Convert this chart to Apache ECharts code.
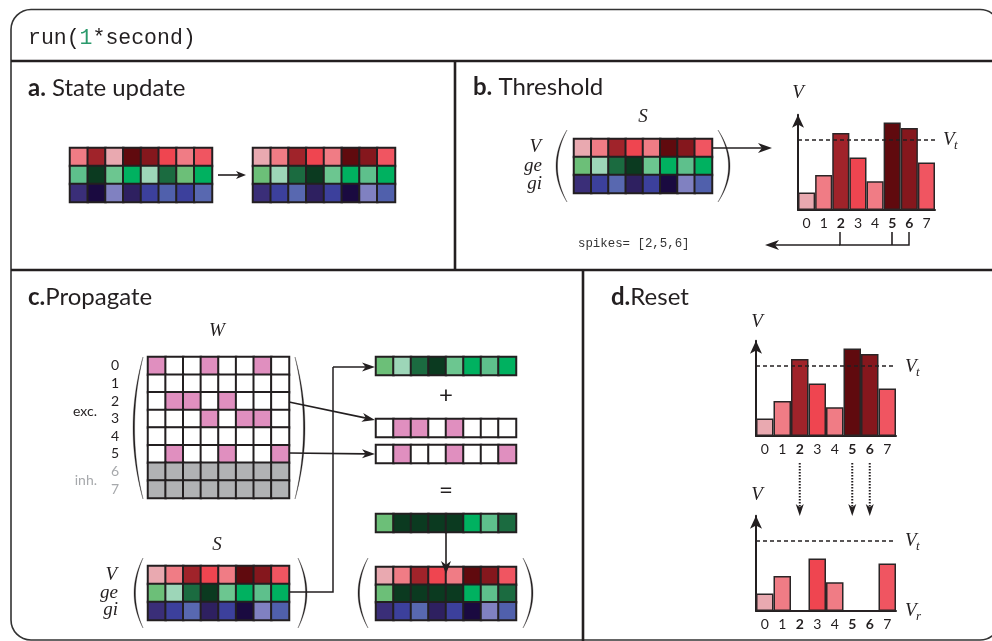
<!DOCTYPE html>
<html><head><meta charset="utf-8">
<script src="https://cdn.jsdelivr.net/npm/echarts@6/dist/echarts.min.js"></script>
<style>html,body{margin:0;padding:0;background:#fff}#c{width:992px;height:641px}</style>
</head><body><div id="c"></div><script>
// ---- network state (8 neurons, 3 state variables) ----
const neurons = ['0', '1', '2', '3', '4', '5', '6', '7'];
const stateRows = ['V', 'ge', 'gi'];
const vThreshold = 1.0;
const vReset = 0;
const vAxisMax = 1.36;

// state before the update step
const vBefore  = [0.45, 1.05, 0.25, 1.25, 1.17, 0.75, 0.50, 0.68];
const geBefore = [2.3, 5.5, 1.8, 2.9, 0.6, 4.0, 1.3, 2.6];
const giBefore = [2.8, 4.2, 0.5, 3.4, 2.0, 1.4, 2.0, 1.0];
// state after the update step
const vAfter  = [0.25, 0.50, 1.10, 0.75, 0.41, 1.25, 1.17, 0.68];
const geAfter = [1.3, 0.6, 4.0, 5.5, 1.8, 2.9, 2.3, 2.6];
const giAfter = [2.8, 2.0, 1.0, 3.4, 2.0, 4.2, 0.5, 1.4];
// neurons above threshold
const spikes = [2, 5, 6];
// synaptic weights: 1 = excitatory connection, -1 = inhibitory source row
const W = [
  [1, 0, 0, 1, 0, 0, 1, 0],
  [0, 0, 0, 0, 0, 0, 0, 0],
  [0, 1, 1, 0, 1, 0, 0, 0],
  [0, 0, 0, 1, 0, 1, 1, 0],
  [0, 0, 0, 0, 0, 0, 0, 0],
  [0, 1, 0, 0, 1, 0, 0, 1],
  [-1, -1, -1, -1, -1, -1, -1, -1],
  [-1, -1, -1, -1, -1, -1, -1, -1]
];
// ge after adding the rows of spiking excitatory neurons
const geSummed = [1.3, 5.2, 6.3, 5.5, 6.4, 2.9, 2.3, 4.9];
// V after resetting the spiking neurons
const vAfterReset = [0.25, 0.50, 0, 0.75, 0.41, 0, 0, 0.68];

// ---- colour scales ----
const vPieces = [
  { gte: 0,    lt: 0.32, color: '#e9a9b0' },
  { gte: 0.32, lt: 0.62, color: '#f07c85' },
  { gte: 0.62, lt: 0.72, color: '#f05561' },
  { gte: 0.72, lt: 0.95, color: '#ef4550' },
  { gte: 0.95, lt: 1.14, color: '#a0232a' },
  { gte: 1.14, lt: 1.21, color: '#85171d' },
  { gte: 1.21,           color: '#600a0e' }
];
const gePieces = [
  { gte: 0,   lt: 1,   color: '#9dd6b8' },
  { gte: 1,   lt: 1.6, color: '#6cbf78' },
  { gte: 1.6, lt: 2.1, color: '#6cc690' },
  { gte: 2.1, lt: 2.5, color: '#5ec08c' },
  { gte: 2.5, lt: 3.5, color: '#00b160' },
  { gte: 3.5, lt: 5,   color: '#1b6b40' },
  { gte: 5,            color: '#0b3a20' }
];
const giPieces = [
  { gte: 0,   lt: 0.8, color: '#8081c1' },
  { gte: 0.8, lt: 1.2, color: '#5868b0' },
  { gte: 1.2, lt: 1.7, color: '#5060ac' },
  { gte: 1.7, lt: 2.4, color: '#3c409c' },
  { gte: 2.4, lt: 3.1, color: '#3a2e78' },
  { gte: 3.1, lt: 3.8, color: '#2e2060' },
  { gte: 3.8,          color: '#1a0a40' }
];
const wPieces = [
  { value: 1,  color: '#e08fbf' },
  { value: 0,  color: '#ffffff' },
  { value: -1, color: '#b1b2b4' }
];

const INK = '#231f20';
const SANS = 'Lato';
const SERIF = 'Liberation Serif';
const MONO = 'Liberation Mono';

const grids = [], xAxes = [], yAxes = [], series = [];
const vIdx = [], geIdx = [], giIdx = [], wIdx = [];

function addGrid(l, t, w, h) {
  grids.push({ left: l, top: t, width: w, height: h, containLabel: false });
  return grids.length - 1;
}
function matrixGrid(l, t, w, h, rows) {
  const g = addGrid(l, t, w, h);
  xAxes.push({ gridIndex: g, type: 'category', data: neurons, show: false });
  yAxes.push({ gridIndex: g, type: 'category', data: rows, inverse: true, show: false });
  return g;
}
function heatRow(g, row, values, group) {
  series.push({
    type: 'heatmap', xAxisIndex: g, yAxisIndex: g,
    data: values.map((v, i) => [i, row, v]),
    itemStyle: { borderColor: INK, borderWidth: 2 },
    emphasis: { disabled: true }, silent: true
  });
  group.push(series.length - 1);
}
function stateMatrix(l, t, w, h, v, ge, gi) {
  const g = matrixGrid(l, t, w, h, stateRows);
  heatRow(g, 0, v, vIdx);
  heatRow(g, 1, ge, geIdx);
  heatRow(g, 2, gi, giIdx);
}
function vector(l, t, w, h, values, group) {
  const g = matrixGrid(l, t, w, h, ['row']);
  heatRow(g, 0, values, group);
}
function barChart(l, t, w, h, values) {
  const g = addGrid(l, t, w, h);
  xAxes.push({
    gridIndex: g, type: 'category', data: neurons,
    axisLine: { show: true, lineStyle: { color: INK, width: 2 } },
    axisTick: { show: false },
    axisLabel: {
      margin: 6, interval: 0,
      formatter: (val, i) => spikes.includes(i) ? '{b|' + val + '}' : '{n|' + val + '}',
      rich: {
        n: { fontFamily: SANS, fontSize: 14, color: INK },
        b: { fontFamily: SANS, fontSize: 14, color: INK, fontWeight: 'bold' }
      }
    }
  });
  yAxes.push({
    gridIndex: g, type: 'value', min: 0, max: vAxisMax,
    axisLine: { show: true, lineStyle: { color: INK, width: 2 }, symbol: ['none', 'arrow'], symbolSize: [9, 13] },
    axisTick: { show: false }, axisLabel: { show: false }, splitLine: { show: false }
  });
  series.push({
    type: 'bar', xAxisIndex: g, yAxisIndex: g, data: values,
    barCategoryGap: '0%',
    itemStyle: { borderColor: '#2b2526', borderWidth: 1.5 },
    emphasis: { disabled: true }, silent: true,
    markLine: {
      silent: true, symbol: 'none', label: { show: false },
      lineStyle: { color: INK, width: 1.5, type: [4, 3] },
      data: [{ yAxis: vThreshold }]
    }
  });
  vIdx.push(series.length - 1);
}

// a. state update
stateMatrix(70, 148, 142, 54, vBefore, geBefore, giBefore);
stateMatrix(253, 148, 142, 54, vAfter, geAfter, giAfter);
// b. threshold
stateMatrix(574, 139, 138, 54, vAfter, geAfter, giAfter);
barChart(798, 210 - vAxisMax * 70, 137, vAxisMax * 70, vAfter);
// c. propagate
const gW = matrixGrid(148, 357, 141, 141, neurons);
W.forEach((row, r) => heatRow(gW, r, row, wIdx));
stateMatrix(148, 566, 141, 54, vAfter, geAfter, giAfter);
vector(376, 357, 140, 18, geAfter, geIdx);
vector(376, 419, 140, 18, W[2], wIdx);
vector(376, 445, 140, 18, W[5], wIdx);
vector(376, 514, 140, 18, geSummed, geIdx);
stateMatrix(376, 567, 140, 53, vAfter, geSummed, giAfter);
// d. reset
barChart(756, 436 - vAxisMax * 70, 140, vAxisMax * 70, vAfter);
barChart(756, 611 - vAxisMax * 70, 140, vAxisMax * 70, vAfterReset);

const visualMap = [
  { type: 'piecewise', show: false, seriesIndex: vIdx, pieces: vPieces },
  { type: 'piecewise', show: false, seriesIndex: geIdx, pieces: gePieces },
  { type: 'piecewise', show: false, seriesIndex: giIdx, pieces: giPieces },
  { type: 'piecewise', show: false, seriesIndex: wIdx, pieces: wPieces }
];

// ---- drawing helpers for frame, brackets, arrows and labels ----
const G = [];
function line(x1, y1, x2, y2, w, color, dash) {
  G.push({ type: 'line', z: 100, silent: true, shape: { x1, y1, x2, y2 },
    style: { stroke: color || INK, lineWidth: w || 1.5, lineDash: dash || null } });
}
function polyline(points, w) {
  G.push({ type: 'polyline', z: 100, silent: true, shape: { points },
    style: { stroke: INK, lineWidth: w || 1.5, fill: null } });
}
function head(x, y, dx, dy, len, half) {
  const px = -dy, py = dx;
  G.push({ type: 'polygon', z: 101, silent: true, shape: { points: [
    [x, y],
    [x - dx * len + px * half, y - dy * len + py * half],
    [x - dx * len * 0.72, y - dy * len * 0.72],
    [x - dx * len - px * half, y - dy * len - py * half]
  ] }, style: { fill: INK } });
}
function arrow(x1, y1, x2, y2, opt) {
  opt = opt || {};
  const len = opt.len || 11, half = opt.half || 4.5;
  const d = Math.hypot(x2 - x1, y2 - y1), dx = (x2 - x1) / d, dy = (y2 - y1) / d;
  line(x1, y1, x2 - dx * len * 0.7, y2 - dy * len * 0.7, opt.w || 1.6, INK, opt.dash);
  head(x2, y2, dx, dy, len, half);
}
// large bracket: a crescent between two quadratic curves
function paren(xEnd, xMid, y0, y1, thick) {
  const ym = (y0 + y1) / 2, s = xMid < xEnd ? 1 : -1;
  const c1 = 2 * xMid - xEnd, c2 = 2 * (xMid + s * thick) - xEnd;
  const pts = [];
  const n = 24;
  for (let k = 0; k <= n; k++) {
    const t = k / n;
    pts.push([(1 - t) * (1 - t) * xEnd + 2 * t * (1 - t) * c1 + t * t * xEnd,
              (1 - t) * (1 - t) * y0 + 2 * t * (1 - t) * ym + t * t * y1]);
  }
  for (let k = n; k >= 0; k--) {
    const t = k / n;
    pts.push([(1 - t) * (1 - t) * xEnd + 2 * t * (1 - t) * c2 + t * t * xEnd,
              (1 - t) * (1 - t) * y0 + 2 * t * (1 - t) * ym + t * t * y1]);
  }
  G.push({ type: 'polygon', z: 100, silent: true, shape: { points: pts },
    style: { fill: INK, stroke: INK, lineWidth: 0.3 } });
}
function text(x, y, str, font, extra) {
  G.push({ type: 'text', z: 100, silent: true, x, y, style: Object.assign({
    text: str, fill: INK, fontFamily: font.family, fontSize: font.size,
    fontStyle: font.style || 'normal', fontWeight: font.weight || 'normal',
    align: 'left', verticalAlign: 'middle' }, extra || {}) });
}
const mathFont = { family: SERIF, size: 19, style: 'italic' };
const subFont = { family: SERIF, size: 13, style: 'italic' };
function mathSub(x, y, main, sub) {
  text(x, y, main, mathFont);
  text(x + 11, y + 6, sub, subFont);
}
function title(x, y, letter, rest) {
  G.push({ type: 'text', z: 100, silent: true, x, y, style: {
    text: '{b|' + letter + '}{n|' + rest + '}', verticalAlign: 'middle', align: 'left',
    rich: {
      b: { fontFamily: SANS, fontSize: 24, fontWeight: 'bold', fill: INK },
      n: { fontFamily: SANS, fontSize: 24, fill: INK }
    } } });
}

// outer frame and panel dividers
G.push({ type: 'rect', z: 99, silent: true, shape: { x: 11, y: 9.5, width: 989, height: 630.5, r: 20 },
  style: { fill: null, stroke: '#333', lineWidth: 1.6 } });
line(11, 61, 992, 61, 2.6);
line(455, 61, 455, 270, 2.6);
line(11, 270, 992, 270, 2.6);
line(583, 270, 583, 641, 2.6);

// header
G.push({ type: 'text', z: 100, silent: true, x: 28, y: 38, style: {
  text: '{m|run(}{g|1}{m|*second)}', verticalAlign: 'middle',
  rich: {
    m: { fontFamily: MONO, fontSize: 21.5, fill: INK },
    g: { fontFamily: MONO, fontSize: 21.5, fill: '#2a9a6c' }
  } } });

// titles
title(28, 88, 'a.', ' State update');
title(473, 87, 'b.', ' Threshold');
title(28, 297, 'c.', 'Propagate');
title(611, 297, 'd.', 'Reset');

// a
arrow(218, 175, 246, 175, { len: 10, half: 4 });

// b
text(643, 117, 'S', mathFont, { align: 'center' });
text(541, 147, 'V', mathFont, { align: 'right' });
text(542, 166, 'ge', mathFont, { align: 'right' });
text(542, 184, 'gi', mathFont, { align: 'right' });
paren(567, 556, 130, 202, 1.5);
paren(718, 730, 130, 202, 1.5);
arrow(712, 148, 772, 148, { len: 14, half: 5 });
text(798, 93, 'V', mathFont, { align: 'center' });
mathSub(943, 140, 'V', 't');
polyline([[840, 232], [840, 245], [909, 245], [909, 232]]);
line(892, 232, 892, 245, 1.6);
arrow(840, 245, 765, 245, { len: 14, half: 5 });
text(578, 244, 'spikes= [2,5,6]', { family: MONO, size: 12.4 }, { fill: '#333' });

// c
text(217, 331, 'W', mathFont, { align: 'center' });
neurons.forEach((n, i) => text(115, 357 + 17.6 * (i + 0.5), n, { family: SANS, size: 14 },
  { align: 'center', fill: i < 6 ? INK : '#a7a9ac' }));
text(97, 411, 'exc.', { family: SANS, size: 14 }, { align: 'right' });
text(97, 480, 'inh.', { family: SANS, size: 14 }, { align: 'right', fill: '#a7a9ac' });
paren(143, 133, 357, 499, 1.6);
paren(295, 305, 357, 499, 1.6);
text(217, 545, 'S', mathFont, { align: 'center' });
text(117, 575, 'V', mathFont, { align: 'right' });
text(118, 593, 'ge', mathFont, { align: 'right' });
text(118, 610, 'gi', mathFont, { align: 'right' });
paren(143, 134, 558, 628, 1.5);
paren(298, 307, 558, 628, 1.5);
arrow(289, 402, 375, 420, { len: 13, half: 4.5 });
arrow(289, 453, 375, 454, { len: 13, half: 4.5 });
polyline([[289, 592], [333, 592], [333, 367]]);
arrow(333, 367, 375, 367, { len: 13, half: 4.5 });
text(446, 395, '+', { family: SANS, size: 24 }, { align: 'center' });
text(446, 490, '=', { family: SANS, size: 24 }, { align: 'center' });
arrow(446, 532, 446, 574, { len: 13, half: 5 });
paren(368, 358, 558, 628, 1.5);
paren(523, 533, 558, 628, 1.5);

// d
text(757, 322, 'V', mathFont, { align: 'center' });
mathSub(905, 367, 'V', 't');
text(757, 495, 'V', mathFont, { align: 'center' });
mathSub(905, 541, 'V', 't');
mathSub(905, 611, 'V', 'r');
[799.75, 852.25, 869.75].forEach(x => arrow(x, 463, x, 516, { len: 12, half: 4, w: 2, dash: [1.5, 1.5] }));

const chart = echarts.init(document.getElementById('c'), null, { renderer: 'canvas', width: 992, height: 641 });
chart.setOption({
  animation: false,
  backgroundColor: '#ffffff',
  grid: grids, xAxis: xAxes, yAxis: yAxes,
  visualMap, series,
  graphic: { elements: G }
});
</script></body></html>
